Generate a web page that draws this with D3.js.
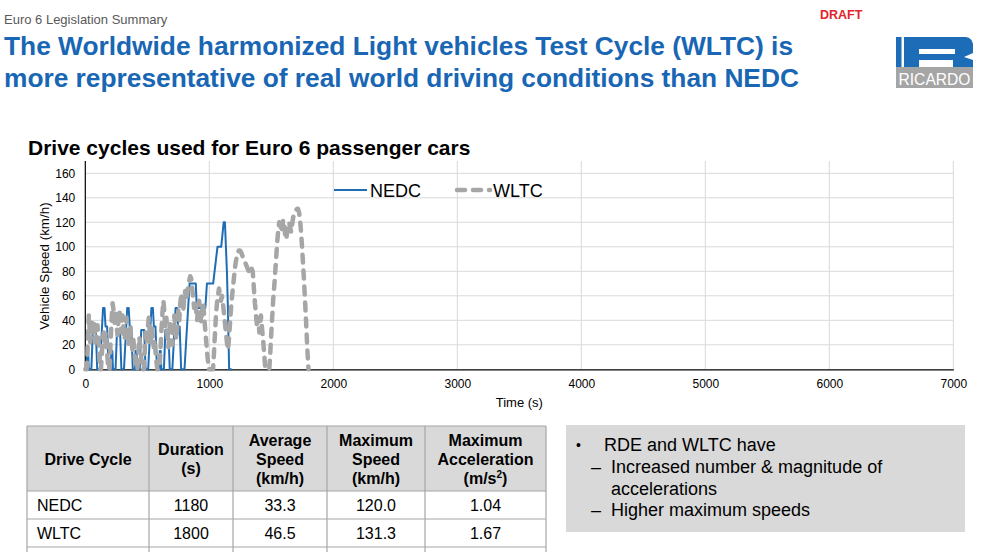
<!DOCTYPE html>
<html>
<head>
<meta charset="utf-8">
<script src="https://cdn.jsdelivr.net/npm/d3@7"></script>
<style>
  html, body { margin: 0; padding: 0; background: #fff; }
  svg { display: block; font-family: "Liberation Sans", Arial, sans-serif; }
</style>
</head>
<body>
<svg id="chart" width="984" height="552"></svg>
<script>
// ---------------- DATA ----------------
const xTicks = [0, 1000, 2000, 3000, 4000, 5000, 6000, 7000];
const yTicks = [0, 20, 40, 60, 80, 100, 120, 140, 160];
const seriesNames = ["NEDC", "WLTC"];

// NEDC: [time s, speed km/h]
const nedc = [
  [0,0],[11,0],[15,15],[23,15],[28,0],[49,0],[61,32],[85,32],[96,0],[117,0],[143,50],[155,50],[163,35],[176,35],[188,0],[195,0],
  [206,0],[210,15],[218,15],[223,0],[244,0],[256,32],[280,32],[291,0],[312,0],[338,50],[350,50],[358,35],[371,35],[383,0],[390,0],
  [401,0],[405,15],[413,15],[418,0],[439,0],[451,32],[475,32],[486,0],[507,0],[533,50],[545,50],[553,35],[566,35],[578,0],[585,0],
  [596,0],[600,15],[608,15],[613,0],[634,0],[646,32],[670,32],[681,0],[702,0],[728,50],[740,50],[748,35],[761,35],[773,0],[780,0],
  [800,0],[841,70],[891,70],[899,50],[968,50],[981,70],[1031,70],[1066,100],[1096,100],[1116,120],[1126,120],[1142,80],[1150,50],[1160,0],[1180,0]
];

// WLTC: [time s, speed km/h]
const wltc = [
  [0,0],[11,0],[16,10],[22,25],[28,44],[34,35],[40,22],[46,28],[54,38],[62,30],[70,40],[76,32],[82,22],[90,28],[98,36],[106,26],[112,12],[118,0],
  [126,0],[132,10],[140,22],[148,30],[156,22],[164,30],[172,18],[180,8],[186,0],[196,0],[204,22],[212,40],[220,54],[228,48],[236,38],[244,46],
  [252,36],[260,28],[268,42],[276,48],[284,36],[292,30],[300,44],[308,34],[316,24],[324,30],[332,42],[340,30],[348,20],[356,26],[364,34],
  [372,22],[380,16],[388,24],[396,14],[404,4],[410,0],[420,0],[428,14],[436,26],[444,18],[452,8],[458,0],[472,0],[480,16],[488,30],[496,22],
  [504,34],[512,42],[520,30],[528,22],[536,34],[544,26],[552,18],[560,24],[568,12],[576,4],[582,0],[598,0],
  [606,16],[614,32],[622,46],[630,56],[638,46],[646,34],[654,42],[662,28],[670,18],[678,28],[686,40],[694,30],[702,20],[710,32],[718,44],
  [726,34],[734,24],[742,36],[750,48],[758,40],[766,54],[774,62],[782,56],[790,48],[798,58],[806,64],[814,56],[822,62],[830,68],[838,72],
  [846,76],[854,74],[862,66],[870,58],[878,50],[886,56],[894,48],[902,40],[910,50],[918,56],[926,46],[934,38],[942,48],[950,54],[958,44],
  [966,34],[974,24],[982,14],[990,6],[996,0],[1030,0],
  [1038,14],[1046,30],[1054,44],[1062,54],[1070,60],[1078,66],[1086,62],[1094,56],[1102,60],[1110,54],[1118,46],[1126,38],[1134,30],[1142,22],
  [1150,16],[1158,24],[1166,36],[1174,48],[1182,58],[1190,66],[1198,74],[1206,82],[1214,88],[1222,92],[1230,95],[1238,97],[1246,97],[1254,96],
  [1262,94],[1270,92],[1278,90],[1286,88],[1294,86],[1302,84],[1310,82],[1318,80],[1326,78],[1334,80],[1342,82],[1350,80],[1356,72],[1362,62],
  [1368,54],[1374,48],[1380,40],[1386,34],[1392,42],[1398,38],[1404,30],[1410,36],[1416,44],[1422,38],[1428,30],[1434,24],[1440,16],[1446,8],
  [1452,0],[1484,0],
  [1492,14],[1500,30],[1508,44],[1516,58],[1524,68],[1532,80],[1540,92],[1548,104],[1556,114],[1564,120],[1572,118],[1580,112],[1588,116],
  [1596,122],[1604,118],[1612,110],[1620,106],[1628,112],[1636,118],[1644,120],[1652,116],[1660,112],[1668,118],[1676,124],[1684,126],
  [1692,128],[1700,130],[1708,131],[1716,131],[1724,128],[1732,122],[1740,112],[1748,100],[1756,86],[1764,72],[1772,56],[1780,40],
  [1788,22],[1796,6],[1800,0]
];

const tableHeader = [["Drive Cycle"], ["Duration", "(s)"], ["Average", "Speed", "(km/h)"], ["Maximum", "Speed", "(km/h)"], ["Maximum", "Acceleration", "(m/s²)"]];
const tableRows = [
  ["NEDC", "1180", "33.3", "120.0", "1.04"],
  ["WLTC", "1800", "46.5", "131.3", "1.67"],
  ["", "", "", "", ""]
];
const bulletMain = "RDE and WLTC have";
const bulletSubs = [["Increased number & magnitude of", "accelerations"], ["Higher maximum speeds"]];

// ---------------- DRAW ----------------
const svg = d3.select("#chart");
const titleBlue = "#1866b4";

// header texts
svg.append("text").attr("x", 4).attr("y", 24).attr("font-size", 13).attr("fill", "#595959").text("Euro 6 Legislation Summary");
svg.append("text").attr("x", 820).attr("y", 19).attr("font-size", 12.5).attr("font-weight", "bold").attr("fill", "#e3242b").text("DRAFT");
const titleLines = ["The Worldwide harmonized Light vehicles Test Cycle (WLTC) is", "more representative of real world driving conditions than NEDC"];
titleLines.forEach((t, i) => {
  svg.append("text").attr("x", 4).attr("y", 55 + i * 32).attr("font-size", 26.3).attr("font-weight", "bold")
    .attr("fill", titleBlue).text(t);
});

// logo
const logoBlue = "#1c6cb8";
const logo = svg.append("g");
logo.append("rect").attr("x", 896).attr("y", 37).attr("width", 77).attr("height", 30).attr("fill", logoBlue);
logo.append("rect").attr("x", 901.5).attr("y", 37).attr("width", 2.5).attr("height", 30).attr("fill", "#fff");
// R counter, notch and leg gap
logo.append("rect").attr("x", 919).attr("y", 49).attr("width", 36).attr("height", 5).attr("fill", "#fff");
logo.append("rect").attr("x", 919).attr("y", 60).attr("width", 34).attr("height", 7).attr("fill", "#fff");
logo.append("path").attr("d", "M973,53 L964,57 L973,60 Z").attr("fill", "#fff");
logo.append("path").attr("d", "M966,37 L973,37 L973,44 Q972,38 966,37 Z").attr("fill", "#fff");
logo.append("rect").attr("x", 896).attr("y", 67).attr("width", 77).attr("height", 21).attr("fill", "#a5a5a5");
logo.append("text").attr("x", 934.5).attr("y", 84.5).attr("text-anchor", "middle").attr("font-size", 17)
  .attr("fill", "#fff").attr("textLength", 72).attr("lengthAdjust", "spacingAndGlyphs").text("RICARDO");

// chart title
svg.append("text").attr("x", 28).attr("y", 155).attr("font-size", 21).attr("font-weight", "bold").text("Drive cycles used for Euro 6 passenger cars");

// plot
const plotTop = 161;
const x = d3.scaleLinear().domain([0, 7000]).range([85.3, 953.3]);
const y = d3.scaleLinear().domain([0, 160]).range([369.3, 173.3]);

const grid = svg.append("g");
grid.selectAll("line.h").data(yTicks.filter(d => d > 0)).join("line")
  .attr("x1", x(0)).attr("x2", x(7000)).attr("y1", d => y(d)).attr("y2", d => y(d))
  .attr("stroke", "#d9d9d9").attr("stroke-width", 1);
grid.selectAll("line.v").data(xTicks.filter(d => d > 0)).join("line")
  .attr("x1", d => x(d)).attr("x2", d => x(d)).attr("y1", plotTop).attr("y2", y(0))
  .attr("stroke", "#d9d9d9").attr("stroke-width", 1);

// axes
const xAxis = d3.axisBottom(x).tickValues(xTicks).tickSize(0).tickPadding(10).tickFormat(d3.format("d"));
const gx = svg.append("g").attr("transform", `translate(0,${y(0)})`).call(xAxis);
gx.select(".domain").attr("stroke", "#000").attr("stroke-width", 1.2);
gx.selectAll("text").attr("font-size", 12).attr("font-family", "Liberation Sans, Arial, sans-serif").attr("fill", "#000");

const yAxis = d3.axisLeft(y).tickValues(yTicks).tickSize(0).tickPadding(10);
const gy = svg.append("g").attr("transform", `translate(${x(0)},0)`).call(yAxis);
gy.select(".domain").remove();
gy.selectAll("text").attr("font-size", 12).attr("font-family", "Liberation Sans, Arial, sans-serif").attr("fill", "#000");
svg.append("line").attr("x1", x(0)).attr("x2", x(0)).attr("y1", plotTop).attr("y2", y(0)).attr("stroke", "#000").attr("stroke-width", 1.2);

svg.append("text").attr("x", x(3500)).attr("y", 407).attr("text-anchor", "middle").attr("font-size", 13).text("Time (s)");
svg.append("text").attr("transform", `translate(49,266) rotate(-90)`).attr("text-anchor", "middle").attr("font-size", 13.4).text("Vehicle Speed (km/h)");

// lines
const line = d3.line().x(d => x(d[0])).y(d => y(d[1]));
svg.append("path").datum(nedc).attr("d", line).attr("fill", "none").attr("stroke", "#1f6db5").attr("stroke-width", 2).attr("stroke-linejoin", "round");
svg.append("path").datum(wltc).attr("d", line).attr("fill", "none").attr("stroke", "#a6a6a6").attr("stroke-width", 4.5)
  .attr("stroke-dasharray", "8 8").attr("stroke-linecap", "round").attr("stroke-linejoin", "round");

// legend
const lg = svg.append("g");
lg.append("line").attr("x1", 334).attr("x2", 367).attr("y1", 190).attr("y2", 190).attr("stroke", "#1f6db5").attr("stroke-width", 2);
lg.append("text").attr("x", 370).attr("y", 196.5).attr("font-size", 18).text(seriesNames[0]);
lg.append("line").attr("x1", 457).attr("x2", 490).attr("y1", 190).attr("y2", 190).attr("stroke", "#a6a6a6").attr("stroke-width", 4.5)
  .attr("stroke-dasharray", "8 8").attr("stroke-linecap", "round");
lg.append("text").attr("x", 493).attr("y", 196.5).attr("font-size", 18).text(seriesNames[1]);

// table
const colEdges = [27, 149, 233, 327, 425, 546];
const rowEdges = [426, 491, 519, 547, 575];
const tb = svg.append("g");
tb.append("rect").attr("x", colEdges[0]).attr("y", rowEdges[0]).attr("width", colEdges[5] - colEdges[0]).attr("height", rowEdges[1] - rowEdges[0]).attr("fill", "#d9d9d9");
rowEdges.forEach(r => tb.append("line").attr("x1", colEdges[0]).attr("x2", colEdges[5]).attr("y1", r).attr("y2", r).attr("stroke", "#a6a6a6").attr("stroke-width", 1.2));
colEdges.forEach(c => tb.append("line").attr("x1", c).attr("x2", c).attr("y1", rowEdges[0]).attr("y2", 575).attr("stroke", "#a6a6a6").attr("stroke-width", 1.2));
tableHeader.forEach((lines, ci) => {
  const cx = (colEdges[ci] + colEdges[ci + 1]) / 2;
  const mid = (rowEdges[0] + rowEdges[1]) / 2;
  const lh = 19;
  lines.forEach((t, li) => {
    const yy = mid + 6 + (li - (lines.length - 1) / 2) * lh;
    const tx = tb.append("text").attr("x", cx).attr("y", yy).attr("text-anchor", "middle").attr("font-size", 16).attr("font-weight", "bold");
    if (t.includes("²")) {
      tx.append("tspan").text(t.replace("²)", ""));
      tx.append("tspan").attr("font-size", 10).attr("dy", -6).text("2");
      tx.append("tspan").attr("dy", 6).text(")");
    } else tx.text(t);
  });
});
tableRows.forEach((row, ri) => {
  const yy = (rowEdges[ri + 1] + rowEdges[ri + 2]) / 2 + 6;
  row.forEach((v, ci) => {
    if (!v) return;
    if (ci === 0) tb.append("text").attr("x", colEdges[0] + 10).attr("y", yy).attr("font-size", 16).text(v);
    else tb.append("text").attr("x", (colEdges[ci] + colEdges[ci + 1]) / 2).attr("y", yy).attr("text-anchor", "middle").attr("font-size", 16).text(v);
  });
});

// bullet box
const bb = svg.append("g");
bb.append("rect").attr("x", 566).attr("y", 425).attr("width", 399).attr("height", 107).attr("fill", "#d9d9d9");
bb.append("text").attr("x", 576).attr("y", 450).attr("font-size", 14).text("•");
bb.append("text").attr("x", 604).attr("y", 451).attr("font-size", 18).text(bulletMain);
let ly = 473;
bulletSubs.forEach(sub => {
  bb.append("text").attr("x", 591).attr("y", ly).attr("font-size", 18).text("–");
  sub.forEach(t => {
    bb.append("text").attr("x", 611).attr("y", ly).attr("font-size", 18).text(t);
    ly += 21.5;
  });
});
</script>
</body>
</html>
